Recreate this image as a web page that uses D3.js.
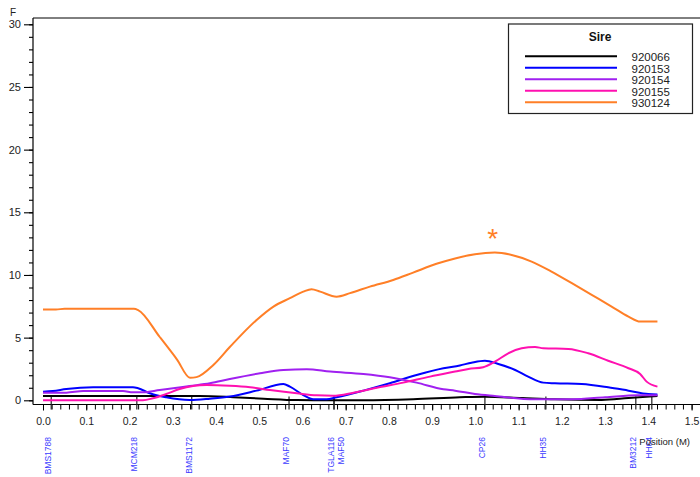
<!DOCTYPE html>
<html><head><meta charset="utf-8">
<script src="https://cdn.jsdelivr.net/npm/d3@7"></script>
<style>body{margin:0;background:#fff}svg{display:block;font-family:"Liberation Sans",Arial,sans-serif}</style>
</head><body><svg id="c" width="700" height="477"></svg>
<script>
// ---- data ----
const seriesNames = ["920066","920153","920154","920155","930124"];
const seriesColors = ["#000000","#0000ff","#a020f0","#ff10b0","#ff7f27"];

const pos920066 = [0,0.362,0.44,0.51,0.587,0.741,0.856,0.964,1.022,1.107,1.184,1.292,1.354,1.421];
const val920066 = [0.34,0.34,0.25,0.13,0.02,0.0,0.08,0.24,0.29,0.18,0.08,0.03,0.18,0.34];

const pos920153 = [0,0.023,0.054,0.116,0.208,0.22,0.247,0.285,0.339,0.386,0.432,0.494,0.556,0.571,0.602,0.625,0.656,0.679,0.741,0.802,0.864,0.926,0.964,0.991,1.022,1.053,1.092,1.122,1.157,1.184,1.246,1.307,1.354,1.4,1.421];
const val920153 = [0.69,0.74,0.9,1.04,1.04,0.96,0.56,0.24,0.02,0.13,0.3,0.77,1.3,1.09,0.42,0.08,0.08,0.24,0.77,1.36,2.02,2.56,2.78,3.0,3.16,2.9,2.42,1.89,1.41,1.36,1.3,1.04,0.77,0.5,0.47];

const pos920154 = [0,0.054,0.093,0.185,0.208,0.231,0.27,0.301,0.339,0.386,0.432,0.502,0.556,0.61,0.664,0.741,0.802,0.864,0.926,0.953,0.999,1.045,1.138,1.223,1.3,1.377,1.421];
const val920154 = [0.61,0.61,0.74,0.74,0.64,0.64,0.82,0.96,1.14,1.36,1.7,2.16,2.42,2.48,2.29,2.1,1.84,1.41,0.88,0.77,0.5,0.34,0.08,0.08,0.24,0.4,0.4];

const pos920155 = [0,0.231,0.254,0.285,0.316,0.347,0.378,0.432,0.479,0.525,0.587,0.633,0.671,0.718,0.772,0.833,0.895,0.953,0.984,1.018,1.045,1.076,1.107,1.138,1.157,1.215,1.261,1.307,1.354,1.381,1.396,1.421];
const val920155 = [0.0,0.0,0.16,0.5,0.9,1.14,1.22,1.16,1.04,0.82,0.56,0.4,0.37,0.61,1.0,1.41,1.89,2.29,2.5,2.64,3.08,3.75,4.15,4.26,4.15,4.1,3.75,3.16,2.56,2.1,1.49,1.09];

const pos930124 = [0,0.03,0.05,0.21,0.22,0.27,0.31,0.34,0.355,0.394,0.432,0.494,0.533,0.571,0.602,0.621,0.641,0.679,0.71,0.756,0.81,0.856,0.91,0.953,0.999,1.045,1.084,1.13,1.176,1.223,1.269,1.315,1.354,1.381,1.421];
const val930124 = [7.25,7.25,7.3,7.3,7.2,5.05,3.25,1.8,1.85,2.82,4.25,6.41,7.48,8.15,8.67,8.87,8.67,8.27,8.55,9.07,9.6,10.19,10.89,11.32,11.66,11.79,11.6,11.07,10.27,9.34,8.41,7.48,6.68,6.28,6.28];

const markerNames = ["BMS1788","MCM218","BMS1172","MAF70","TGLA116","MAF50","CP26","HH35","BM3212","HH64"];
const markerPos   = [0.019,0.217,0.344,0.569,0.673,0.673,1.022,1.163,1.371,1.408];

const xTickValues = [0,0.1,0.2,0.3,0.4,0.5,0.6,0.7,0.8,0.9,1.0,1.1,1.2,1.3,1.4,1.5];
const yTickValues = [0,5,10,15,20,25,30];
const starPos = 1.04, starF = 12.15;

// ---- chart ----
const allPos = [pos920066,pos920153,pos920154,pos920155,pos930124];
const allVal = [val920066,val920153,val920154,val920155,val930124];
const series = seriesNames.map((n,i)=>({name:n,color:seriesColors[i],pts:allPos[i].map((p,j)=>[p,allVal[i][j]])}));

const svg = d3.select("#c");
const x = d3.scaleLinear().domain([0,1.5]).range([43,691.6]);
const y = d3.scaleLinear().domain([0,30]).range([400.3,24.3]);
const frameLeft = 33, frameTop = 18, axisY = 404.5;

// frame
svg.append("line").attr("x1",frameLeft).attr("x2",700).attr("y1",frameTop).attr("y2",frameTop).attr("stroke","#000").attr("stroke-width",1);
svg.append("line").attr("x1",frameLeft).attr("x2",frameLeft).attr("y1",frameTop).attr("y2",axisY).attr("stroke","#000").attr("stroke-width",1.2);
svg.append("line").attr("x1",frameLeft).attr("x2",700).attr("y1",axisY).attr("y2",axisY).attr("stroke","#000").attr("stroke-width",1.2);

// y axis
const yMinor = d3.range(0,31,1);
const gyMin = svg.append("g").attr("transform",`translate(${frameLeft},0)`)
  .call(d3.axisLeft(y).tickValues(yMinor).tickSize(4).tickFormat(""));
const gy = svg.append("g").attr("transform",`translate(${frameLeft},0)`)
  .call(d3.axisLeft(y).tickValues(yTickValues).tickSize(9).tickPadding(3).tickFormat(d3.format("d")));
[gyMin,gy].forEach(g=>{g.select(".domain").remove();g.selectAll("line").attr("stroke","#000").attr("stroke-width",1.1);});
gy.selectAll("text").attr("font-size","11px").attr("fill","#222").attr("font-family","Liberation Sans, Arial, sans-serif");

// x axis
const xMinor = d3.range(0,77).map(i=>+(i*0.02).toFixed(2));
const gxMin = svg.append("g").attr("transform",`translate(0,${axisY})`)
  .call(d3.axisBottom(x).tickValues(xMinor).tickSize(5).tickFormat(""));
const gx = svg.append("g").attr("transform",`translate(0,${axisY})`)
  .call(d3.axisBottom(x).tickValues(xTickValues).tickSize(6).tickFormat(d3.format(".1f")));
[gxMin,gx].forEach(g=>{g.select(".domain").remove();g.selectAll("line").attr("stroke","#000").attr("stroke-width",1);});
gx.selectAll("text").attr("y",13).attr("font-size","10.5px").attr("fill","#222").attr("font-family","Liberation Sans, Arial, sans-serif");

// axis titles
svg.append("text").attr("x",10).attr("y",15.5).attr("font-size","10px").attr("fill","#222").text("F");

// markers
let prevX = -100;
const mg = svg.append("g");
markerPos.forEach((p,i)=>{
  const mx = x(p);
  mg.append("line").attr("x1",mx).attr("x2",mx).attr("y1",396.5).attr("y2",axisY+5).attr("stroke","#222").attr("stroke-width",1.2);
  let lx = mx;
  if (lx - prevX < 9) lx = prevX + 10;
  prevX = lx;
  mg.append("text").attr("transform",`translate(${lx},437) rotate(-90)`).attr("text-anchor","end")
    .attr("font-size","8.5px").attr("fill","#3b3bff").text(markerNames[i]);
});
svg.append("text").attr("x",690).attr("y",444.5).attr("text-anchor","end").attr("font-size","9.5px").attr("fill","#222").text("Position (M)");

// lines
const line = d3.line().x(d=>x(d[0])).y(d=>y(d[1])).curve(d3.curveMonotoneX);
svg.append("g").selectAll("path").data(series).join("path")
  .attr("d",d=>line(d.pts)).attr("fill","none").attr("stroke",d=>d.color).attr("stroke-width",2);

// star
svg.append("text").attr("x",x(starPos)).attr("y",y(starF)).attr("text-anchor","middle")
  .attr("font-size","28px").attr("fill","#ff7f27").text("*");

// legend
const lg = svg.append("g");
lg.append("rect").attr("x",508.5).attr("y",24).attr("width",184).attr("height",89.5).attr("fill","#fff").attr("stroke","#222").attr("stroke-width",1.2);
lg.append("text").attr("x",600).attr("y",41).attr("text-anchor","middle").attr("font-size","12px").attr("font-weight","bold").attr("fill","#111").text("Sire");
series.forEach((s,i)=>{
  const ly = 56.2 + i*11.5;
  lg.append("line").attr("x1",525).attr("x2",617).attr("y1",ly).attr("y2",ly).attr("stroke",s.color).attr("stroke-width",2);
  lg.append("text").attr("x",631.5).attr("y",ly+1).attr("dominant-baseline","central").attr("font-size","11.5px").attr("fill","#222").text(s.name);
});
</script></body></html>
